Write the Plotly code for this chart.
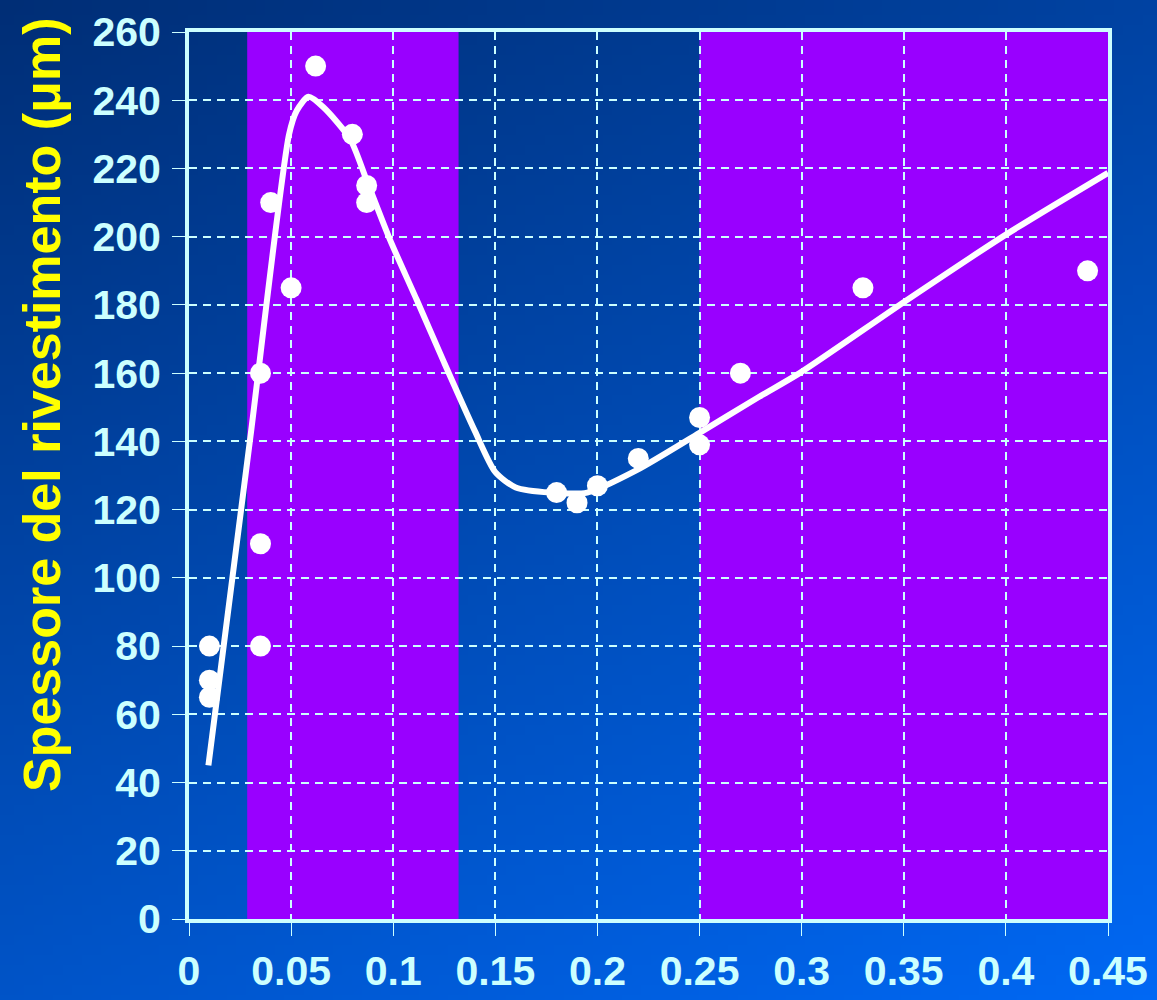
import base64, struct, zlib
import plotly.graph_objects as go

# ---------------- data ----------------
pts_x = [0.01, 0.01, 0.01, 0.035, 0.04, 0.035, 0.035, 0.05, 0.062, 0.08, 0.087, 0.087,
         0.18, 0.19, 0.20, 0.22, 0.25, 0.25, 0.27, 0.33, 0.44]
pts_y = [80, 70, 65, 160, 210, 110, 80, 185, 250, 230, 215, 210,
         125, 122, 127, 135, 147, 139, 160, 185, 190]

curve_x = [0.0095, 0.03, 0.049, 0.0528, 0.0585, 0.0657, 0.079, 0.087,
           0.0985, 0.1115, 0.125, 0.14, 0.15, 0.16, 0.177, 0.195, 0.219, 0.25, 0.279,
           0.299, 0.3505, 0.40, 0.45]
curve_y = [45, 141, 230, 237, 241, 238, 228.5, 216.5,
           199, 181.5, 163, 143, 131, 126.5, 125, 125, 131.5, 142.5, 153,
           160, 181, 200.6, 218.7]

band1 = [0.0285, 0.132]
band2 = [0.25, 0.45]

x_ticks = [0, 0.05, 0.1, 0.15, 0.2, 0.25, 0.3, 0.35, 0.4, 0.45]
x_labels = ["0", "0.05", "0.1", "0.15", "0.2", "0.25", "0.3", "0.35", "0.4", "0.45"]
y_ticks = list(range(0, 261, 20))
y_labels = [str(v) for v in y_ticks]

# ---------------- gradient background (PNG data URI) ----------------
def make_png(w, h, c0, c1):
    raw = bytearray()
    for j in range(h):
        raw.append(0)
        for i in range(w):
            t = 0.35 * i / (w - 1) + 0.65 * j / (h - 1)
            for k in range(3):
                raw.append(int(round(c0[k] + (c1[k] - c0[k]) * t)))
    def chunk(tag, data):
        c = tag + data
        return struct.pack(">I", len(data)) + c + struct.pack(">I", zlib.crc32(c) & 0xffffffff)
    png = b"\x89PNG\r\n\x1a\n"
    png += chunk(b"IHDR", struct.pack(">IIBBBBB", w, h, 8, 2, 0, 0, 0))
    png += chunk(b"IDAT", zlib.compress(bytes(raw), 9))
    png += chunk(b"IEND", b"")
    return "data:image/png;base64," + base64.b64encode(png).decode()

W, H = 1157, 1000
ML, MR, MT, MB = 189, 49, 32, 81
PW, PH = W - ML - MR, H - MT - MB

bg = make_png(120, 100, (0, 46, 118), (0, 104, 244))

CYAN = "#CCFFFF"
PURPLE = "#9900FF"

fig = go.Figure()
fig.add_trace(go.Scatter(x=curve_x, y=curve_y, mode="lines",
                         line=dict(color="white", width=6, shape="spline", smoothing=0.7),
                         hoverinfo="skip"))
fig.add_trace(go.Scatter(x=pts_x, y=pts_y, mode="markers",
                         marker=dict(color="white", size=21, line=dict(width=0)),
                         hoverinfo="skip"))

for b in (band1, band2):
    fig.add_shape(type="rect", xref="x", yref="paper", x0=b[0], x1=b[1], y0=0, y1=1,
                  fillcolor=PURPLE, line=dict(width=0), layer="below")

fig.add_layout_image(dict(source=bg, xref="paper", yref="paper",
                          x=-ML / PW, y=1 + MT / PH, sizex=W / PW, sizey=H / PH,
                          xanchor="left", yanchor="top", sizing="stretch", layer="below"))

fig.add_annotation(text="Spessore del rivestimento (μm)", textangle=-90,
                   xref="paper", yref="paper", x=(42 - ML) / PW, y=(H - MB - 405) / PH,
                   xanchor="center", yanchor="middle", showarrow=False,
                   font=dict(family="Liberation Sans, Arial, sans-serif", size=52, color="#FFFF00",
                             weight="bold"))

axis_common = dict(showline=True, linecolor=CYAN, linewidth=4, mirror=True,
                   showgrid=True, gridcolor=CYAN, gridwidth=2, griddash="8px,6px",
                   ticks="outside", ticklen=13, tickwidth=1, tickcolor=CYAN,
                   zeroline=False, automargin=False)

fig.update_xaxes(range=[0, 0.45], tickvals=x_ticks, ticktext=x_labels,
                 ticklabelstandoff=0,
                 tickfont=dict(family="Liberation Sans, Arial, sans-serif", size=41,
                               color=CYAN, weight="bold"), **axis_common)
fig.update_yaxes(range=[0, 260], tickvals=y_ticks, ticktext=y_labels,
                 ticklabelstandoff=3,
                 tickfont=dict(family="Liberation Sans, Arial, sans-serif", size=41,
                               color=CYAN, weight="bold"), **axis_common)

fig.update_layout(width=W, height=H, margin=dict(l=ML, r=MR, t=MT, b=MB),
                  paper_bgcolor="#0050C8", plot_bgcolor="rgba(0,0,0,0)",
                  showlegend=False, hovermode=False)

fig.write_html("out.html", config={"displayModeBar": False},
               post_script="document.body.style.margin='0';document.body.style.overflow='hidden';")
